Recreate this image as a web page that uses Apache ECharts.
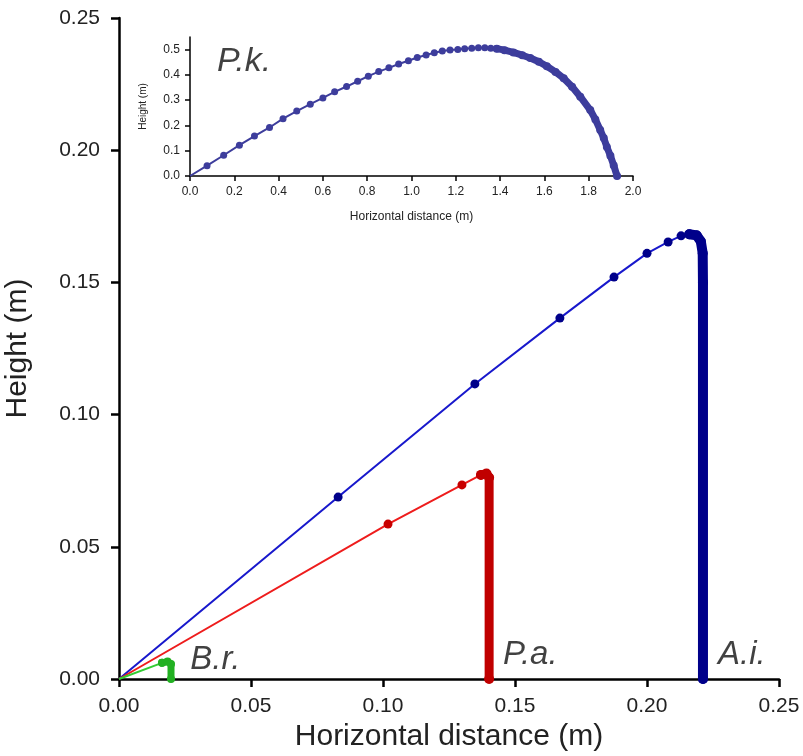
<!DOCTYPE html>
<html>
<head>
<meta charset="utf-8">
<script src="https://cdn.jsdelivr.net/npm/echarts@6/dist/echarts.min.js"></script>
<style>
  html, body { margin: 0; padding: 0; background: #fff; }
  #chart { width: 803px; height: 756px; }
</style>
</head>
<body>
<div id="chart"></div>
<script>
// Main panel: take-off trajectories (x, y in metres)
const aiRise = [[0, 0], [0.0830, 0.0688], [0.1348, 0.1116], [0.1670, 0.1365], [0.1875, 0.1520], [0.2000, 0.1610], [0.2080, 0.1653], [0.2129, 0.1676], [0.2160, 0.1682]];
const aiFall = [[0.2160, 0.1682], [0.2188, 0.1678], [0.2204, 0.1655], [0.2211, 0.1610], [0.2212, 0.1500], [0.2212, 0.0]];
const paRise = [[0, 0], [0.1019, 0.0586], [0.1299, 0.0734], [0.1371, 0.0772]];
const paFall = [[0.1371, 0.0772], [0.1392, 0.0777], [0.1402, 0.0762], [0.1402, 0.0]];
const brRise = [[0, 0], [0.0163, 0.0061]];
const brFall = [[0.0163, 0.0061], [0.0184, 0.0066], [0.0197, 0.0057], [0.0197, 0.0]];

// Inset: P.k.
const pkRise = [[0, 0], [0.077, 0.041], [0.152, 0.082], [0.223, 0.122], [0.291, 0.158], [0.359, 0.192], [0.420, 0.227],
  [0.482, 0.257], [0.543, 0.284], [0.600, 0.309], [0.653, 0.333], [0.707, 0.354], [0.757, 0.375], [0.805, 0.395],
  [0.852, 0.413], [0.898, 0.428], [0.942, 0.443], [0.986, 0.456], [1.026, 0.469], [1.066, 0.479], [1.103, 0.488],
  [1.139, 0.495], [1.174, 0.499], [1.209, 0.501], [1.240, 0.504], [1.272, 0.505], [1.302, 0.507], [1.331, 0.507],
  [1.358, 0.505], [1.385, 0.504]];
const pkFall = [[1.385, 0.504], [1.420, 0.498], [1.460, 0.489], [1.500, 0.478], [1.536, 0.467], [1.575, 0.452], [1.611, 0.434],
  [1.650, 0.412], [1.687, 0.387], [1.725, 0.353], [1.762, 0.314], [1.807, 0.261], [1.830, 0.224], [1.852, 0.182],
  [1.868, 0.150], [1.882, 0.115], [1.898, 0.080], [1.913, 0.042], [1.928, 0.0]];

// Species labels [x, y, text]
const mainLabels = [[0.2269, 0.0092, 'A.i.'], [0.1455, 0.0092, 'P.a.'], [0.0270, 0.0072, 'B.r.']];
const insetLabels = [[0.122, 0.452, 'P.k.']];

const mainTicks = 0.05;
const insetXTicks = 0.2;
const insetYTicks = 0.1;

const font = 'Liberation Sans, Arial, sans-serif';
const chart = echarts.init(document.getElementById('chart'));

function axisBase(size, width, tickLen) {
  return {
    axisLine: { show: true, lineStyle: { color: '#000', width: width } },
    axisTick: { show: true, inside: false, length: tickLen, lineStyle: { color: '#000', width: width } },
    splitLine: { show: false },
    axisLabel: { color: '#222', fontFamily: font, fontSize: size }
  };
}

// hide the marker at the origin, the lines just meet there
const skipFirst = size => (v, p) => (p.dataIndex === 0 ? 0 : size);

const mainX = axisBase(21, 2.5, 8);
const mainY = axisBase(21, 2.5, 8);
const inX = axisBase(12, 1.5, 5);
const inY = axisBase(12, 1.5, 5);

chart.setOption({
  animation: false,
  backgroundColor: '#fff',
  grid: [
    { left: 119, right: 24, top: 18, bottom: 77, outerBoundsMode: 'none', containLabel: false },
    { left: 190, right: 170, top: 37, bottom: 580, outerBoundsMode: 'none', containLabel: false }
  ],
  xAxis: [
    Object.assign({}, mainX, {
      gridIndex: 0, type: 'value', min: 0, max: 0.25, interval: mainTicks,
      name: 'Horizontal distance (m)', nameLocation: 'middle', nameGap: 41,
      nameTextStyle: { fontFamily: font, fontSize: 30, color: '#222' },
      axisLabel: Object.assign({}, mainX.axisLabel, { margin: 17, formatter: v => v.toFixed(2) })
    }),
    Object.assign({}, inX, {
      gridIndex: 1, type: 'value', min: 0, max: 2.0, interval: insetXTicks,
      name: 'Horizontal distance (m)', nameLocation: 'middle', nameGap: 35,
      nameTextStyle: { fontFamily: font, fontSize: 12, color: '#222' },
      axisLabel: Object.assign({}, inX.axisLabel, { margin: 10, formatter: v => v.toFixed(1) })
    })
  ],
  yAxis: [
    Object.assign({}, mainY, {
      gridIndex: 0, type: 'value', min: 0, max: 0.25, interval: mainTicks,
      name: 'Height (m)', nameLocation: 'middle', nameGap: 86, nameRotate: 90,
      nameTextStyle: { fontFamily: font, fontSize: 30, color: '#222' },
      axisLabel: Object.assign({}, mainY.axisLabel, { margin: 19, formatter: v => v.toFixed(2) })
    }),
    Object.assign({}, inY, {
      gridIndex: 1, type: 'value', min: 0, max: 0.55, interval: insetYTicks,
      name: 'Height (m)', nameLocation: 'middle', nameGap: 42, nameRotate: 90,
      nameTextStyle: { fontFamily: font, fontSize: 10, color: '#222' },
      axisLabel: Object.assign({}, inY.axisLabel, { margin: 10, showMaxLabel: false,
        formatter: v => (v > 0.51 ? '' : v.toFixed(1)) })
    })
  ],
  series: [
    { type: 'line', data: aiRise, xAxisIndex: 0, yAxisIndex: 0, symbol: 'circle', symbolSize: skipFirst(9),
      lineStyle: { color: '#1818cc', width: 2 }, itemStyle: { color: '#00008a' }, z: 3 },
    { type: 'line', data: aiFall, xAxisIndex: 0, yAxisIndex: 0, symbol: 'circle', symbolSize: 10,
      lineStyle: { color: '#00008a', width: 10, cap: 'round', join: 'round' }, itemStyle: { color: '#00008a' }, z: 3 },
    { type: 'line', data: paRise, xAxisIndex: 0, yAxisIndex: 0, symbol: 'circle', symbolSize: skipFirst(9),
      lineStyle: { color: '#ee1c1c', width: 2 }, itemStyle: { color: '#c80000' }, z: 3 },
    { type: 'line', data: paFall, xAxisIndex: 0, yAxisIndex: 0, symbol: 'circle', symbolSize: 10,
      lineStyle: { color: '#c00000', width: 9, cap: 'round', join: 'round' }, itemStyle: { color: '#c00000' }, z: 3 },
    { type: 'line', data: brRise, xAxisIndex: 0, yAxisIndex: 0, symbol: 'circle', symbolSize: skipFirst(8),
      lineStyle: { color: '#33cc33', width: 2 }, itemStyle: { color: '#22b022' }, z: 3 },
    { type: 'line', data: brFall, xAxisIndex: 0, yAxisIndex: 0, symbol: 'circle', symbolSize: 8,
      lineStyle: { color: '#22b022', width: 7, cap: 'round', join: 'round' }, itemStyle: { color: '#22b022' }, z: 3 },
    { type: 'line', data: pkRise, xAxisIndex: 1, yAxisIndex: 1, symbol: 'circle', symbolSize: skipFirst(7),
      lineStyle: { color: '#3d3d9c', width: 2 }, itemStyle: { color: '#3d3d9c' }, z: 3 },
    { type: 'line', data: pkFall, xAxisIndex: 1, yAxisIndex: 1, symbol: 'circle', symbolSize: 8,
      lineStyle: { color: '#3d3d9c', width: 7, cap: 'round', join: 'round' }, itemStyle: { color: '#3d3d9c' }, z: 3 },
    { type: 'scatter', data: mainLabels, xAxisIndex: 0, yAxisIndex: 0, symbolSize: 0, silent: true,
      label: { show: true, position: 'right', distance: 0, formatter: p => p.data[2],
        fontFamily: font, fontStyle: 'italic', fontSize: 33, color: '#111' } },
    { type: 'scatter', data: insetLabels, xAxisIndex: 1, yAxisIndex: 1, symbolSize: 0, silent: true,
      label: { show: true, position: 'right', distance: 0, formatter: p => p.data[2],
        fontFamily: font, fontStyle: 'italic', fontSize: 34, color: '#111' } }
  ]
});
</script>
</body>
</html>
